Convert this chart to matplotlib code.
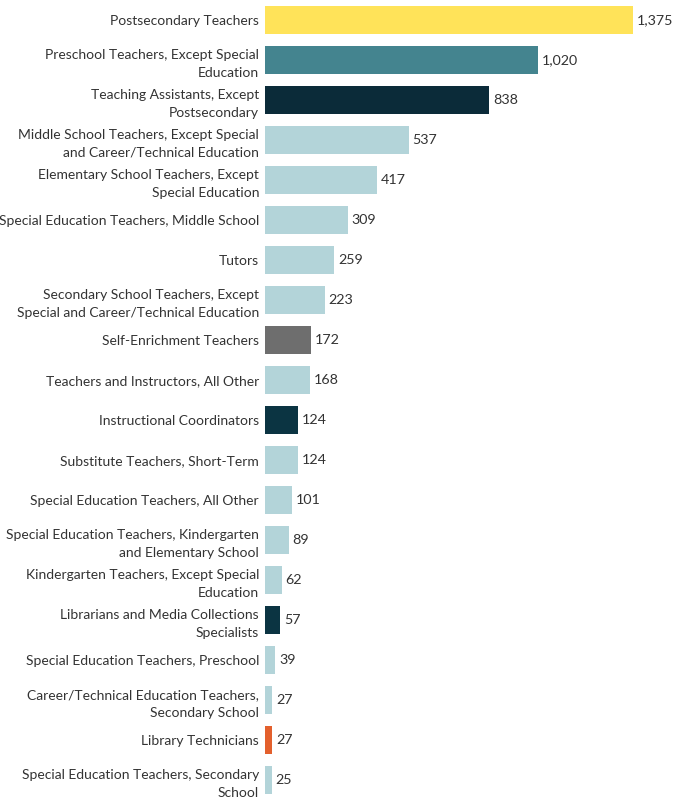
import matplotlib
matplotlib.use("Agg")
import matplotlib.pyplot as plt

occupations = [
    "Postsecondary Teachers",
    "Preschool Teachers, Except Special\nEducation",
    "Teaching Assistants, Except\nPostsecondary",
    "Middle School Teachers, Except Special\nand Career/Technical Education",
    "Elementary School Teachers, Except\nSpecial Education",
    "Special Education Teachers, Middle School",
    "Tutors",
    "Secondary School Teachers, Except\nSpecial and Career/Technical Education",
    "Self-Enrichment Teachers",
    "Teachers and Instructors, All Other",
    "Instructional Coordinators",
    "Substitute Teachers, Short-Term",
    "Special Education Teachers, All Other",
    "Special Education Teachers, Kindergarten\nand Elementary School",
    "Kindergarten Teachers, Except Special\nEducation",
    "Librarians and Media Collections\nSpecialists",
    "Special Education Teachers, Preschool",
    "Career/Technical Education Teachers,\nSecondary School",
    "Library Technicians",
    "Special Education Teachers, Secondary\nSchool",
]
values = [1375, 1020, 838, 537, 417, 309, 259, 223, 172, 168,
          124, 124, 101, 89, 62, 57, 39, 27, 27, 25]
bar_colors = ["#FFE359", "#44848F", "#0B2B39", "#B3D4D9", "#B3D4D9",
              "#B3D4D9", "#B3D4D9", "#B3D4D9", "#6E6E6E", "#B3D4D9",
              "#0B3442", "#B3D4D9", "#B3D4D9", "#B3D4D9", "#B3D4D9",
              "#0B3442", "#B3D4D9", "#B3D4D9", "#E3602D", "#B3D4D9"]

plt.rcParams["font.family"] = ["Lato", "DejaVu Sans"]

fig = plt.figure(figsize=(6.95, 8.0), dpi=100)
ax = fig.add_axes([265 / 695, 0, 430 / 695, 1])

ypos = list(range(len(values)))
ax.barh(ypos, values, height=0.68, color=bar_colors)
ax.set_ylim(len(values) - 0.5, -0.5)
ax.set_xlim(0, 1607)

for y, v in zip(ypos, values):
    ax.text(v + 14, y, f"{v:,}", va="center", ha="left", fontsize=10.3, color="#333333")

ax.set_yticks(ypos)
ax.set_yticklabels(occupations, fontsize=10, color="#333333", linespacing=1.6)
ax.tick_params(axis="y", length=0, pad=4.3)
ax.set_xticks([])
for s in ax.spines.values():
    s.set_visible(False)

fig.savefig("out.png", dpi=100)
